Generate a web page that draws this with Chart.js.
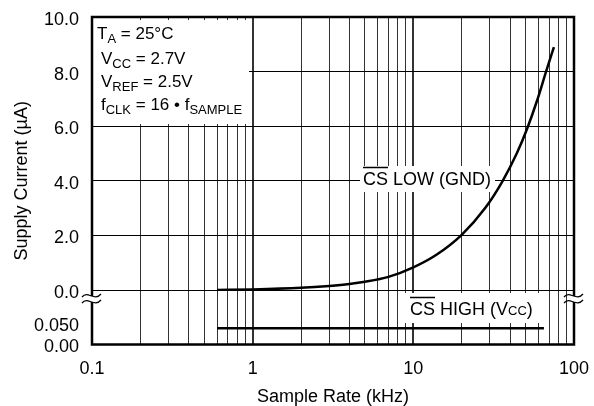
<!DOCTYPE html>
<html><head><meta charset="utf-8">
<script src="https://cdn.jsdelivr.net/npm/chart.js@4/dist/chart.umd.min.js"></script>
<style>html,body{margin:0;padding:0;background:#fff}#wrap{width:594px;height:406px}</style>
</head><body><div id="wrap"><canvas id="c" width="594" height="406"></canvas></div>
<script>
// ---- data ----
const sampleRateLow = [0.6, 1, 2, 3, 4, 5, 7, 10, 14, 20, 28, 36, 44, 51, 59, 67, 75];
const currentLow    = [0.0, 0.02, 0.08, 0.15, 0.22, 0.3, 0.48, 0.83, 1.3, 2.02, 3.0, 4.0, 5.0, 5.9, 6.95, 8.0, 8.9];
const sampleRateHigh = [0.6, 65];
const currentHigh    = [0.037, 0.037];
const xTickValues = [0.1, 1, 10, 100];
const xTickLabels = ['0.1', '1', '10', '100'];
const yTopTicks  = [0, 2, 4, 6, 8, 10];
const yTopLabels = ['0.0', '2.0', '4.0', '6.0', '8.0', '10.0'];
const yBottomTicks  = [0, 0.05];
const yBottomLabels = ['0.00', '0.050'];

const FONT = '"Liberation Sans", Arial, Helvetica, sans-serif';
Chart.defaults.font.family = FONT;
Chart.defaults.color = '#000';

function isMajor(v) {
  const l = Math.log10(v);
  return Math.abs(l - Math.round(l)) < 1e-9 && v > 0.1 && v < 100;
}

function runs(ctx, x, y, parts) {
  for (const p of parts) {
    ctx.font = p.size + 'px ' + FONT;
    ctx.fillText(p.t, x, y + (p.dy || 0));
    x += ctx.measureText(p.t).width;
  }
  return x;
}

const annot = {
  id: 'annot',
  beforeDatasetsDraw(chart) {
    const ctx = chart.ctx;
    const a = chart.chartArea;
    ctx.save();
    ctx.fillStyle = '#fff';
    ctx.fillRect(a.left, a.top + 3, 157, 104);
    ctx.fillRect(360, 166, 135, 26);
    ctx.fillRect(405, 293, 135, 30);
    ctx.fillStyle = '#000';
    ctx.textBaseline = 'alphabetic';
    ctx.textAlign = 'left';
    runs(ctx, 97, 39, [{t:'T', size:17}, {t:'A', size:13, dy:4}, {t:' = 25°C', size:17}]);
    runs(ctx, 101, 64, [{t:'V', size:17}, {t:'CC', size:13, dy:4}, {t:' = 2.7V', size:17}]);
    runs(ctx, 101, 87, [{t:'V', size:17}, {t:'REF', size:13, dy:4}, {t:' = 2.5V', size:17}]);
    runs(ctx, 101, 110, [{t:'f', size:17}, {t:'CLK', size:13, dy:4}, {t:' = 16 • f', size:17}, {t:'SAMPLE', size:13, dy:4}]);
    ctx.font = '18px ' + FONT;
    const csW = ctx.measureText('CS').width;
    runs(ctx, 363, 185, [{t:'CS LOW (GND)', size:18}]);
    runs(ctx, 410, 315, [{t:'CS HIGH (V', size:18}, {t:'CC', size:13}, {t:')', size:18}]);
    ctx.lineWidth = 1.5;
    ctx.strokeStyle = '#000';
    ctx.beginPath();
    ctx.moveTo(363, 167.5); ctx.lineTo(363 + csW, 167.5);
    ctx.moveTo(410, 297.5); ctx.lineTo(410 + csW, 297.5);
    ctx.stroke();
    ctx.restore();
  },
  afterDraw(chart) {
    const ctx = chart.ctx;
    const a = chart.chartArea;
    ctx.save();
    ctx.strokeStyle = '#000';
    ctx.lineWidth = 2.5;
    ctx.strokeRect(a.left, a.top, a.right - a.left, a.bottom - a.top);
    const yb = chart.scales.y.getPixelForValue(0) + 9;
    for (const cx of [a.left, a.right]) {
      ctx.fillStyle = '#fff';
      ctx.fillRect(cx - 3, yb - 3, 6, 6);
      ctx.lineWidth = 1.3;
      for (const dy of [-3, 3]) {
        ctx.beginPath();
        ctx.moveTo(cx - 10, yb + dy + 1);
        ctx.bezierCurveTo(cx - 4, yb + dy - 6, cx + 2, yb + dy + 6, cx + 9, yb + dy - 2);
        ctx.stroke();
      }
    }
    ctx.fillStyle = '#000';
    ctx.font = '18px ' + FONT;
    ctx.textAlign = 'center';
    ctx.textBaseline = 'middle';
    ctx.translate(22, (a.top + a.bottom) / 2);
    ctx.rotate(-Math.PI / 2);
    ctx.fillText('Supply Current (µA)', 0, 0);
    ctx.restore();
  }
};

const lowData = sampleRateLow.map((x, i) => ({x, y: currentLow[i]}));
const highData = sampleRateHigh.map((x, i) => ({x, y: currentHigh[i]}));

function noPadH(s) { s.paddingLeft = 0; s.paddingRight = 0; }
function noPadV(s) { s.paddingTop = 0; s.paddingBottom = 0; }

new Chart(document.getElementById('c'), {
  type: 'line',
  data: {
    datasets: [
      {label: 'CS LOW (GND)', data: lowData, yAxisID: 'y', borderColor: '#000', borderWidth: 2.5,
       pointRadius: 0, cubicInterpolationMode: 'monotone', fill: false},
      {label: 'CS HIGH (Vcc)', data: highData, yAxisID: 'y2', borderColor: '#000', borderWidth: 2.5,
       pointRadius: 0, fill: false}
    ]
  },
  options: {
    responsive: false,
    animation: false,
    devicePixelRatio: 1,
    layout: {padding: {top: 17, right: 20, left: 0, bottom: 0}},
    plugins: {legend: {display: false}, tooltip: {enabled: false}},
    scales: {
      x: {
        type: 'logarithmic', min: 0.1, max: 100,
        afterBuildTicks(s) {
          const t = [];
          for (const base of [0.1, 1, 10]) for (let m = 1; m <= 9; m++) t.push({value: +(base * m).toPrecision(6)});
          t.push({value: 100});
          s.ticks = t;
        },
        afterFit(s) { s.height = 61.5; noPadH(s); },
        ticks: {
          autoSkip: false, maxRotation: 0, minRotation: 0, padding: 14,
          font: {size: 18}, color: '#000',
          callback(v) { const i = xTickValues.indexOf(v); return i >= 0 ? xTickLabels[i] : ''; }
        },
        grid: {color: '#333', lineWidth: c => (c.tick && isMajor(c.tick.value)) ? 2 : 1, drawTicks: false},
        border: {display: false},
        title: {display: true, text: 'Sample Rate (kHz)', font: {size: 18}, color: '#000', padding: {top: 0, bottom: -2}}
      },
      y: {
        type: 'linear', min: 0, max: 10, position: 'left', stack: 'v', stackWeight: 273, weight: 1,
        afterBuildTicks(s) { s.ticks = yTopTicks.map(v => ({value: v})); },
        afterFit(s) { s.width = 92; noPadV(s); },
        ticks: {padding: 13, labelOffset: 3, font: {size: 18}, color: '#000',
          callback(v) { const i = yTopTicks.indexOf(v); return i >= 0 ? yTopLabels[i] : ''; }},
        grid: {color: '#000', lineWidth: 1, drawTicks: false},
        border: {display: false}
      },
      y2: {
        type: 'linear', min: 0, max: 0.125, position: 'left', stack: 'v', stackWeight: 54.5, weight: 0,
        afterBuildTicks(s) { s.ticks = yBottomTicks.map(v => ({value: v})); },
        afterFit(s) { s.width = 92; noPadV(s); },
        ticks: {padding: 13, labelOffset: 3, font: {size: 18}, color: '#000',
          callback(v) { const i = yBottomTicks.indexOf(v); return i >= 0 ? yBottomLabels[i] : ''; }},
        grid: {display: false, drawTicks: false},
        border: {display: false}
      }
    }
  },
  plugins: [annot]
});
</script>
</body></html>
